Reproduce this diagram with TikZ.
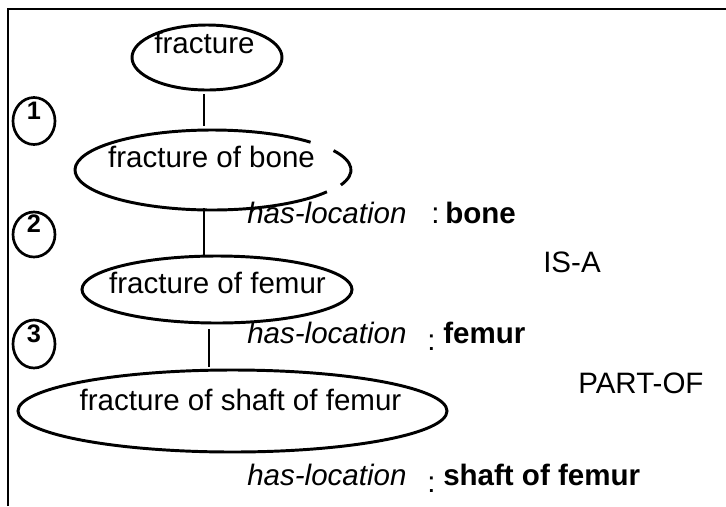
\documentclass[tikz,border=0pt]{standalone}
\usepackage{fontspec}
\setmainfont{Liberation Sans}
\usepackage{tikz}
\usetikzlibrary{shapes.geometric}

\tikzset{
  oval/.style={ellipse, draw, line width=2.1pt, inner sep=0pt},
  numring/.style={ellipse, draw, line width=1.9pt, inner sep=0pt, minimum width=10.5mm,
    font=\fontsize{18}{21}\selectfont\bfseries, text height=3.25mm, text depth=4.25mm},
  link/.style={line width=2pt},
  term/.style={anchor=base, inner sep=0pt, font=\fontsize{21}{25}\selectfont},
  lbl/.style={anchor=base west, inner sep=0pt, font=\fontsize{21}{25}\selectfont},
  slot/.style={lbl, font=\fontsize{21}{25}\selectfont\itshape},
  filler/.style={lbl, font=\fontsize{21}{25}\selectfont\bfseries},
}

\begin{document}
\begin{tikzpicture}[x=0.25mm, y=-0.25mm]

\useasboundingbox (0,0) rectangle (726,506);

% Frame (top and left edges only)
\draw[line width=1.4pt] (8,506) -- (8,9) -- (726,9);

% Concept ovals
\node[oval, minimum width=37.5mm, minimum height=16.25mm] (frac) at (207,57.5) {};
\node[oval, draw=none, minimum width=68.5mm, minimum height=20mm] (bone) at (212,170) {};
\node[oval, minimum width=67.5mm, minimum height=16.75mm] (femur) at (217,289.5) {};
\node[oval, minimum width=107.25mm, minimum height=20.5mm] (shaft) at (232.5,411) {};

% Broken outline of the second oval
\draw[line width=2.1pt] ([shift={(-44:137 and 40)}]bone.center)
    arc[start angle=-44, end angle=-327, x radius=137, y radius=40];
\draw[line width=2.1pt] ([shift={(-29:139 and 40)}]bone.center)
    arc[start angle=-29, end angle=22, x radius=139, y radius=40];

% Oval labels
\node[term] (tfrac) at (204.5,53) {fracture};
\node[term] (tbone) at (211.5,167) {fracture of bone};
\node[term] (tfemur) at (217.5,293) {fracture of femur};
\node[term] (tshaft) at (240.5,410) {fracture of shaft of femur};

% Hierarchy links
\draw[link, shorten <=0.75mm, shorten >=0.75mm]
    ([xshift=-0.75mm]frac.south) -- ([xshift=-0.75mm]frac.south |- bone.north);
\draw[link, shorten <=-0.75mm, shorten >=-0.5mm]
    ([xshift=-2mm]bone.south) -- ([xshift=-2mm]bone.south |- femur.north);
\draw[link, shorten <=1.25mm, shorten >=0.5mm]
    ([xshift=-2mm]femur.south) -- ([xshift=-2mm]femur.south |- shaft.north);

% Numbered rings
\node[numring, minimum height=11.75mm] (n1) at (34,121) {1};
\node[numring, minimum height=11.25mm] (n2) at (34,234.5) {2};
\node[numring, minimum height=12mm] (n3) at (34,344) {3};

% Slot / filler pairs
\node[slot] (loc1) at (247,223) {has-location};
\node[lbl] (col1) at (431,223) {:};
\node[filler] (val1) at (445,223) {bone};

\node[slot] (loc2) at (247,343) {has-location};
\node[lbl] (col2) at (427,350) {:};
\node[filler] (val2) at (443,343) {femur};

\node[slot] (loc3) at (247,485) {has-location};
\node[lbl] (col3) at (427,492) {:};
\node[filler] (val3) at (443,485) {shaft of femur};

% Relation names
\node[lbl] (isa) at (543,272) {IS-A};
\node[lbl] (partof) at (578,393) {PART-OF};

\end{tikzpicture}
\end{document}
